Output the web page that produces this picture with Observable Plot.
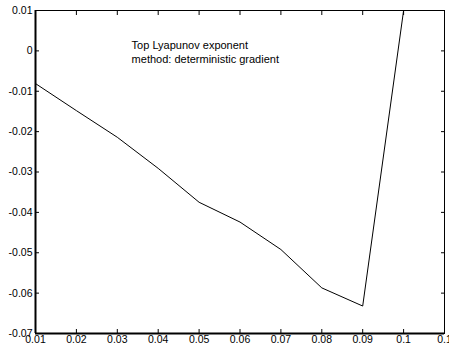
<!DOCTYPE html>
<html>
<head>
<meta charset="utf-8">
<script src="https://cdn.jsdelivr.net/npm/d3@7"></script>
<script src="https://cdn.jsdelivr.net/npm/@observablehq/plot@0.6"></script>
<style>
  html, body { margin: 0; padding: 0; background: #fff; }
  svg { display: block; }
</style>
</head>
<body>
<div id="chart"></div>
<script>
const stepSizes = [0.01, 0.02, 0.03, 0.04, 0.05, 0.06, 0.07, 0.08, 0.09, 0.10];
const lyapunov = [-0.0081, -0.0148, -0.0214, -0.0291, -0.0375, -0.0424, -0.0492, -0.0587, -0.0632, 0.0100];
const xTicks = [0.01, 0.02, 0.03, 0.04, 0.05, 0.06, 0.07, 0.08, 0.09, 0.10, 0.11];
const xTickLabels = ["0.01", "0.02", "0.03", "0.04", "0.05", "0.06", "0.07", "0.08", "0.09", "0.1", "0.1"];
const yTicks = [0.01, 0, -0.01, -0.02, -0.03, -0.04, -0.05, -0.06, -0.07];
const yTickLabels = ["0.01", "0", "-0.01", "-0.02", "-0.03", "-0.04", "-0.05", "-0.06", "-0.07"];
const annotation = ["Top Lyapunov exponent\nmethod: deterministic gradient"];
const annotationX = 0.0335;
const annotationY = 0.0027;

const data = stepSizes.map((x, i) => ({x, y: lyapunov[i]}));
const xFmt = d => xTickLabels[xTicks.findIndex(t => Math.abs(t - d) < 1e-9)];
const yFmt = d => yTickLabels[yTicks.findIndex(t => Math.abs(t - d) < 1e-9)];
const noLabel = () => "";

const chart = Plot.plot({
  width: 449,
  height: 345,
  marginLeft: 35,
  marginRight: 5,
  marginTop: 10,
  marginBottom: 12,
  style: {fontFamily: "'Liberation Sans', Arial, Helvetica, sans-serif", fontSize: "10px", color: "#000", background: "#fff", overflow: "visible"},
  x: {domain: [0.01, 0.11]},
  y: {domain: [-0.07, 0.01]},
  marks: [
    Plot.frame({stroke: "#000", strokeWidth: 1}),
    Plot.ruleX([0.01], {stroke: "#000", strokeWidth: 2}),
    Plot.ruleY([-0.07], {stroke: "#000", strokeWidth: 2}),
    Plot.axisX(xTicks, {anchor: "bottom", tickSize: 0, tickPadding: 2, tickFormat: xFmt, fontSize: 10.5, label: null}),
    Plot.axisX(xTicks, {anchor: "bottom", tickSize: -4, tickFormat: noLabel, label: null}),
    Plot.axisX(xTicks, {anchor: "top", tickSize: -4, tickFormat: noLabel, label: null}),
    Plot.axisY(yTicks, {anchor: "left", tickSize: 0, tickPadding: 3, tickFormat: yFmt, fontSize: 10.5, label: null}),
    Plot.axisY(yTicks, {anchor: "left", tickSize: -4, tickFormat: noLabel, label: null}),
    Plot.axisY(yTicks, {anchor: "right", tickSize: -4, tickFormat: noLabel, label: null}),
    Plot.line(data, {x: "x", y: "y", stroke: "#000", strokeWidth: 1, clip: true}),
    Plot.text(annotation, {x: () => annotationX, y: () => annotationY, text: d => d, textAnchor: "start", lineAnchor: "top", lineHeight: 1.2, fontSize: 11, fill: "#000"})
  ]
});
document.getElementById("chart").appendChild(chart);
</script>
</body>
</html>
